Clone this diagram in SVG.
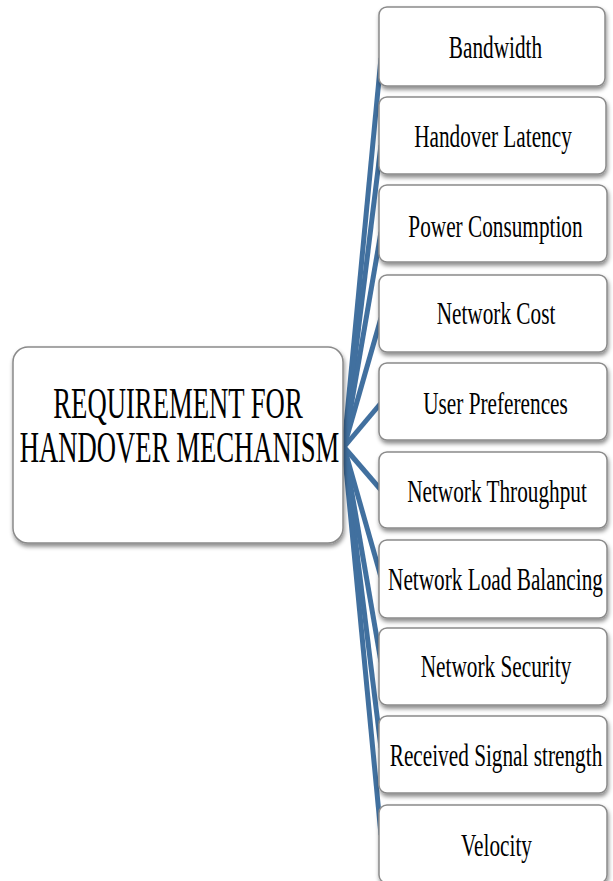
<svg xmlns="http://www.w3.org/2000/svg" width="613" height="881" viewBox="0 0 613 881">
<defs>
<filter id="sh" x="-10%" y="-10%" width="120%" height="130%">
<feDropShadow dx="1" dy="3" stdDeviation="2" flood-color="#000" flood-opacity="0.45"/>
</filter>
<style>
.box{fill:#fff;stroke:#8a8a8a;stroke-width:1.5;filter:url(#sh)}
.t{font-family:"Liberation Serif","Times New Roman",serif;fill:#000;text-anchor:middle}
.c{font-size:31px}
.m{font-size:44px}
.ln{stroke:#41709F;stroke-width:5;fill:none;stroke-linecap:butt}
</style>
</defs>
<rect width="613" height="881" fill="#fff"/>
<g id="connectors">
<line class="ln" x1="344" y1="447" x2="381" y2="58"/>
<line class="ln" x1="344" y1="447" x2="381" y2="145"/>
<line class="ln" x1="344" y1="447" x2="381" y2="232"/>
<line class="ln" x1="344" y1="447" x2="381" y2="318"/>
<line class="ln" x1="344" y1="447" x2="381" y2="403"/>
<line class="ln" x1="344" y1="447" x2="381" y2="490"/>
<line class="ln" x1="344" y1="447" x2="381" y2="577"/>
<line class="ln" x1="344" y1="447" x2="381" y2="662"/>
<line class="ln" x1="344" y1="447" x2="381" y2="748"/>
<line class="ln" x1="344" y1="447" x2="381" y2="835"/>
</g>
<g id="main">
<rect class="box" x="13" y="347" width="330" height="196" rx="15"/>
<text class="t m" transform="translate(178,418) scale(0.607,1)">REQUIREMENT FOR</text>
<text class="t m" transform="translate(179.5,462) scale(0.607,1)">HANDOVER MECHANISM</text>
</g>
<g id="n1"><rect class="box" x="379" y="7" width="226" height="79" rx="8"/>
<text class="t c" transform="translate(495.5,58) scale(0.686,1)">Bandwidth</text></g>
<g id="n2"><rect class="box" x="379" y="97" width="227" height="77" rx="8"/>
<text class="t c" transform="translate(493,147) scale(0.686,1)">Handover Latency</text></g>
<g id="n3"><rect class="box" x="379" y="185" width="228" height="77" rx="8"/>
<text class="t c" transform="translate(495.5,237) scale(0.686,1)">Power Consumption</text></g>
<g id="n4"><rect class="box" x="379" y="275" width="228" height="77" rx="8"/>
<text class="t c" transform="translate(496,324) scale(0.686,1)">Network Cost</text></g>
<g id="n5"><rect class="box" x="379" y="363" width="228" height="77" rx="8"/>
<text class="t c" transform="translate(495.5,414) scale(0.686,1)">User Preferences</text></g>
<g id="n6"><rect class="box" x="379" y="452" width="228" height="76" rx="8"/>
<text class="t c" transform="translate(497,502) scale(0.686,1)">Network Throughput</text></g>
<g id="n7"><rect class="box" x="379" y="540" width="228" height="78" rx="8"/>
<text class="t c" transform="translate(495.5,590) scale(0.686,1)">Network Load Balancing</text></g>
<g id="n8"><rect class="box" x="379" y="628" width="228" height="77" rx="8"/>
<text class="t c" transform="translate(496,677) scale(0.686,1)">Network Security</text></g>
<g id="n9"><rect class="box" x="379" y="716" width="228" height="77" rx="8"/>
<text class="t c" transform="translate(496,766) scale(0.686,1)">Received Signal strength</text></g>
<g id="n10"><rect class="box" x="379" y="805" width="228" height="78" rx="8"/>
<text class="t c" transform="translate(496.5,856) scale(0.686,1)">Velocity</text></g>
</svg>
